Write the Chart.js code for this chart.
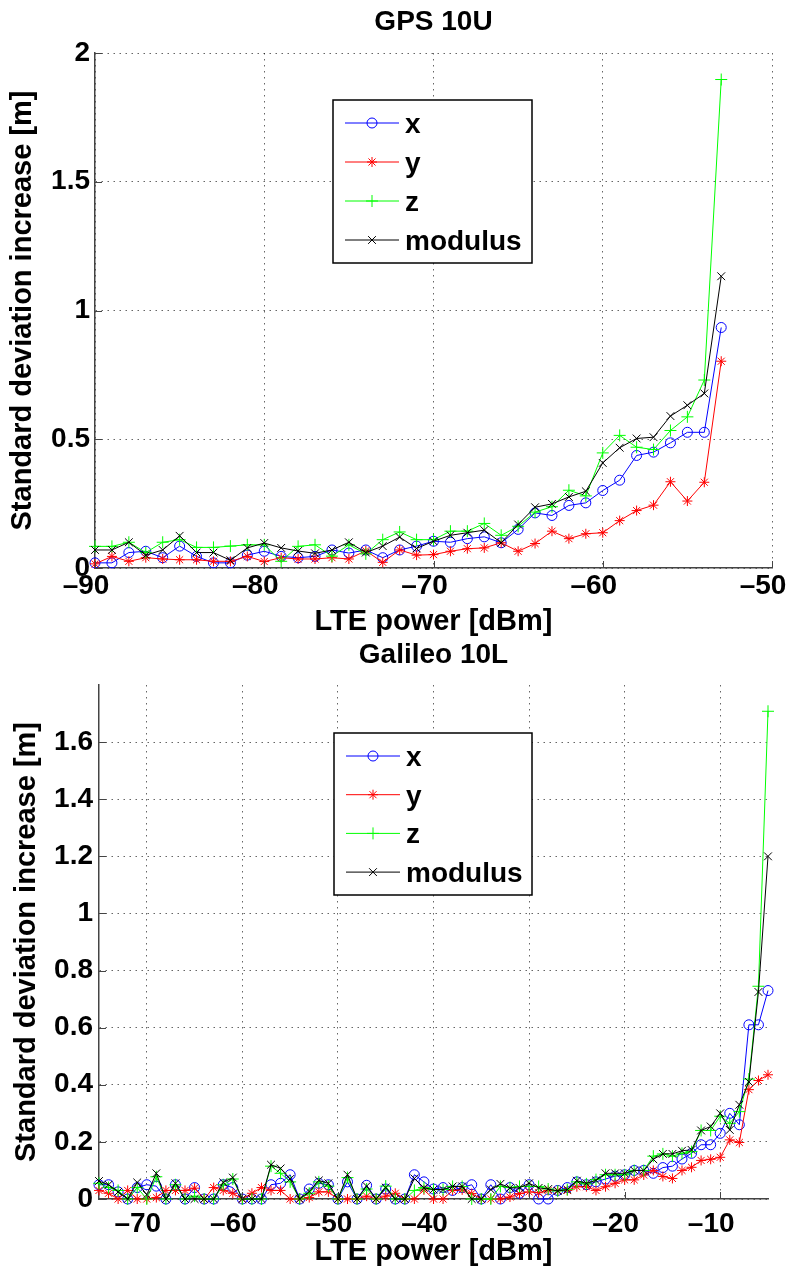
<!DOCTYPE html>
<html>
<head>
<meta charset="utf-8">
<script src="https://cdn.jsdelivr.net/npm/chart.js@4/dist/chart.umd.min.js"></script>
<style>
html,body{margin:0;padding:0;background:#fff;overflow:hidden;width:792px;height:1269px}
canvas{position:absolute;left:0}
#c1{top:0}
#c2{top:640px}
</style>
</head>
<body>
<canvas id="c1" width="792" height="640"></canvas>
<canvas id="c2" width="792" height="629"></canvas>
<script>
// ---------------- DATA ----------------
const seriesNames = ['x', 'y', 'z', 'modulus'];

// GPS 10U
const topTitle = 'GPS 10U';
const topPower = [-90,-89,-88,-87,-86,-85,-84,-83,-82,-81,-80,-79,-78,-77,-76,-75,-74,-73,-72,-71,
                  -70,-69,-68,-67,-66,-65,-64,-63,-62,-61,-60,-59,-58,-57,-56,-55,-54,-53];
const topX = [0.02,0.02,0.06,0.065,0.04,0.085,0.045,0.02,0.02,0.05,0.065,0.045,0.04,0.045,0.07,0.058,0.07,0.04,0.07,0.085,
              0.104,0.1,0.114,0.121,0.098,0.15,0.214,0.204,0.243,0.253,0.301,0.341,0.437,0.45,0.486,0.527,0.527,0.934];
const topY = [0.016,0.045,0.026,0.04,0.035,0.032,0.032,0.026,0.026,0.045,0.025,0.04,0.035,0.035,0.04,0.035,0.067,0.022,0.07,0.05,
              0.052,0.065,0.075,0.078,0.098,0.065,0.095,0.143,0.114,0.133,0.137,0.184,0.223,0.244,0.335,0.26,0.333,0.803];
const topZ = [0.084,0.084,0.1,0.06,0.1,0.11,0.08,0.08,0.085,0.09,0.09,0.026,0.084,0.09,0.046,0.09,0.055,0.11,0.14,0.11,
              0.11,0.143,0.143,0.173,0.127,0.162,0.217,0.238,0.302,0.28,0.447,0.515,0.469,0.46,0.534,0.587,0.73,1.897];
const topMod = [0.07,0.07,0.1,0.05,0.07,0.125,0.06,0.06,0.03,0.078,0.097,0.078,0.066,0.057,0.07,0.1,0.06,0.085,0.12,0.076,
                0.104,0.127,0.137,0.147,0.098,0.169,0.236,0.249,0.276,0.298,0.408,0.467,0.503,0.508,0.59,0.632,0.678,1.133];
const topXTicks = [-90, -80, -70, -60, -50];
const topYTicks = [0, 0.5, 1, 1.5, 2];

// Galileo 10L
const botTitle = 'Galileo 10L';
const botPower = [-75,-74,-73,-72,-71,-70,-69,-68,-67,-66,-65,-64,-63,-62,-61,-60,-59,-58,-57,-56,
                  -55,-54,-53,-52,-51,-50,-49,-48,-47,-46,-45,-44,-43,-42,-41,-40,-39,-38,-37,-36,
                  -35,-34,-33,-32,-31,-30,-29,-28,-27,-26,-25,-24,-23,-22,-21,-20,-19,-18,-17,-16,
                  -15,-14,-13,-12,-11,-10,-9,-8,-7,-6,-5];
const botX = [0.05,0.05,0.025,0,0.04,0.05,0.045,0,0.05,0,0.04,0,0,0.05,0.04,0,0,0,0.05,0.055,
              0.085,0,0.035,0.055,0.05,0,0.06,0,0.048,0,0.035,0,0,
              0.085,0.06,0.035,0.04,0.03,0.04,0.05,0,0.05,0,0.04,0.02,0.05,0,0,0.03,0.04,0.06,0.05,0.06,
              0.07,0.08,0.085,0.1,0.1,0.09,0.11,0.115,0.14,0.16,0.19,0.19,0.23,0.30,0.26,0.61,0.61,0.73];
const botY = [0.03,0.02,0,0.03,0,0,0.005,0.03,0.03,0.03,0.038,0,0.04,0.03,0.02,0,0.02,0.04,0.03,0.03,
              0,0,0.005,0.025,0.025,0,0,0,0.01,0,0.01,0.02,0,
              0,0.032,0,0,0.03,0.032,0.019,0,0,0,0.007,0.019,0.025,0.022,0.03,0.03,0.03,0.043,0.043,0.03,
              0.043,0.055,0.067,0.067,0.084,0.1,0.079,0.072,0.1,0.111,0.135,0.139,0.146,0.207,0.198,0.383,0.415,0.435];
const botZ = [0.055,0.04,0.03,0,0.04,0,0.078,0,0.05,0,0.01,0,0,0.05,0.07,0,0,0,0.115,0.09,
              0.06,0,0.02,0.06,0.045,0,0.075,0,0.035,0,0.045,0,0,
              0.03,0.04,0.033,0.033,0.044,0.044,0,0,0,0.044,0.04,0.044,0.044,0.044,0.035,0.028,0.033,0.06,0.053,0.068,
              0.085,0.085,0.085,0.1,0.1,0.15,0.158,0.15,0.16,0.166,0.24,0.24,0.29,0.265,0.306,0.42,0.745,1.708];
const botMod = [0.063,0.05,0.025,0,0.058,0.015,0.09,0,0.055,0,0,0,0,0.058,0.075,0,0,0,0.12,0.107,
                0.07,0,0.026,0.065,0.055,0,0.085,0,0.045,0,0.04,0,0,
                0.072,0.039,0.033,0.033,0.044,0.044,0,0,0.033,0.053,0.039,0.039,0.055,0.039,0.035,0.028,0.033,0.064,0.055,0.065,
                0.09,0.09,0.09,0.1,0.1,0.139,0.158,0.158,0.169,0.172,0.24,0.254,0.3,0.242,0.33,0.41,0.725,1.2];
const botXTicks = [-70, -60, -50, -40, -30, -20, -10];
const botYTicks = [0, 0.2, 0.4, 0.6, 0.8, 1, 1.2, 1.4, 1.6];

const xAxisLabel = 'LTE power [dBm]';
const yAxisLabel = 'Standard deviation increase [m]';

// ---------------- STYLE ----------------
const FONT = '"Liberation Sans", Arial, Helvetica, sans-serif';
Chart.defaults.font.family = FONT;
Chart.defaults.color = '#000';

const seriesStyle = [
  {color: '#0000ff', pointStyle: 'circle',   radius: 5,   order: 3},
  {color: '#ff0000', pointStyle: 'star',     radius: 5,   order: 2},
  {color: '#00ff00', pointStyle: 'cross',    radius: 6,   order: 1},
  {color: '#000000', pointStyle: 'crossRot', radius: 5.5, order: 0}
];

function fmtTick(v) {
  if (v < 0) return '\u2013' + Math.abs(v);
  return String(v);
}

const overlayPlugin = {
  id: 'overlay',
  afterDraw(chart, args, o) {
    const ctx = chart.ctx, a = chart.chartArea;
    ctx.save();
    // inward major tick marks
    ctx.strokeStyle = '#444';
    ctx.lineWidth = 1;
    const xs = chart.scales.x, ys = chart.scales.y;
    ctx.beginPath();
    xs.ticks.forEach(t => {
      const px = Math.round(xs.getPixelForValue(t.value)) + 0.5;
      ctx.moveTo(px, a.bottom); ctx.lineTo(px, a.bottom - 7);
    });
    ys.ticks.forEach(t => {
      const py = Math.round(ys.getPixelForValue(t.value)) + 0.5;
      ctx.moveTo(a.left, py); ctx.lineTo(a.left + 7, py);
    });
    ctx.stroke();
    // title
    ctx.fillStyle = '#000';
    ctx.font = 'bold 28px ' + FONT;
    ctx.textAlign = 'center';
    ctx.textBaseline = 'alphabetic';
    ctx.fillText(o.title, (a.left + a.right) / 2, o.titleBaseline);
    // legend box
    const L = o.legend;
    ctx.fillStyle = '#fff';
    ctx.fillRect(L.x, L.y, L.w, L.h);
    ctx.strokeStyle = '#000';
    ctx.lineWidth = 1.5;
    ctx.strokeRect(L.x, L.y, L.w, L.h);
    chart.data.datasets.forEach((ds, i) => {
      const cy = L.y + L.row0 + i * L.gap;
      ctx.strokeStyle = ds.borderColor;
      ctx.lineWidth = 1;
      ctx.beginPath();
      ctx.moveTo(L.x + 12, cy); ctx.lineTo(L.x + 66, cy);
      ctx.stroke();
      ctx.fillStyle = 'rgba(0,0,0,0)';
      Chart.helpers.drawPoint(ctx, {pointStyle: ds.pointStyle, radius: ds.pointRadius, borderWidth: 1, rotation: 0}, L.x + 39, cy);
      ctx.fillStyle = '#000';
      ctx.font = 'bold 28px ' + FONT;
      ctx.textAlign = 'left';
      ctx.textBaseline = 'alphabetic';
      ctx.fillText(ds.label, L.x + 72, cy + 10);
    });
    ctx.restore();
  }
};

function makeChart(canvasId, g) {
  const datasets = g.series.map((vals, i) => {
    const s = seriesStyle[i];
    return {
      label: seriesNames[i],
      data: g.power.map((p, k) => ({x: p, y: vals[k]})),
      borderColor: s.color,
      borderWidth: 1,
      pointStyle: s.pointStyle,
      pointRadius: s.radius,
      pointHoverRadius: s.radius,
      pointBorderColor: s.color,
      pointBackgroundColor: 'rgba(0,0,0,0)',
      pointBorderWidth: 1,
      tension: 0,
      fill: false,
      clip: false,
      order: s.order
    };
  });
  const gridOpts = {color: 'rgba(0,0,0,0.6)', lineWidth: 1, drawTicks: false};
  const borderOpts = {display: true, color: '#444', width: 1.5, dash: [1.5, 4.5]};
  return new Chart(document.getElementById(canvasId), {
    type: 'line',
    data: {datasets},
    plugins: [overlayPlugin],
    options: {
      responsive: false,
      animation: false,
      devicePixelRatio: 1,
      events: [],
      layout: {padding: g.padding},
      plugins: {
        legend: {display: false},
        title: {display: false},
        tooltip: {enabled: false},
        overlay: {title: g.title, titleBaseline: g.titleBaseline, legend: g.legend}
      },
      scales: {
        x: {
          type: 'linear',
          min: g.xMin, max: g.xMax,
          afterBuildTicks: s => { s.ticks = g.xTicks.map(v => ({value: v})); },
          afterFit: s => { s.height = g.xAxisH; s.paddingLeft = 0; s.paddingRight = 0; },
          ticks: {font: {size: 28, weight: 'bold'}, color: '#000', padding: g.xTickPad,
                  labelOffset: -9, maxRotation: 0, autoSkip: false, callback: v => fmtTick(v)},
          grid: gridOpts,
          border: borderOpts,
          title: {display: true, text: xAxisLabel, color: '#000',
                  font: {size: 29, weight: 'bold'}, padding: {top: 0, bottom: g.xTitlePad}}
        },
        y: {
          type: 'linear',
          min: g.yMin, max: g.yMax,
          afterBuildTicks: s => { s.ticks = g.yTicks.map(v => ({value: v})); },
          afterFit: s => { s.width = g.yAxisW; s.paddingTop = 0; s.paddingBottom = 0; },
          ticks: {font: {size: 28, weight: 'bold'}, color: '#000', padding: g.yTickPad,
                  autoSkip: false, callback: v => fmtTick(v)},
          grid: gridOpts,
          border: borderOpts,
          title: {display: true, text: yAxisLabel, color: '#000',
                  font: {size: 29, weight: 'bold'}, padding: {top: g.yTitlePad, bottom: 0}}
        }
      }
    }
  });
}

makeChart('c1', {
  title: topTitle, titleBaseline: 30,
  power: topPower, series: [topX, topY, topZ, topMod],
  xMin: -90, xMax: -50, yMin: 0, yMax: 2,
  xTicks: topXTicks, yTicks: topYTicks,
  padding: {left: 0, right: 20, top: 53, bottom: 0},
  xAxisH: 72, yAxisW: 95,
  xTickPad: 1.2, yTickPad: 5, xTitlePad: 0.6, yTitlePad: 5.6,
  legend: {x: 333, y: 100, w: 199, h: 163, row0: 23, gap: 39}
});

makeChart('c2', {
  title: botTitle, titleBaseline: 23,
  power: botPower, series: [botX, botY, botZ, botMod],
  xMin: -75, xMax: -5, yMin: 0, yMax: 1.8,
  xTicks: botXTicks, yTicks: botYTicks,
  padding: {left: 0, right: 24, top: 45, bottom: 0},
  xAxisH: 70, yAxisW: 99,
  xTickPad: 8.2, yTickPad: 6, xTitlePad: 0, yTitlePad: 9.1,
  legend: {x: 334, y: 93, w: 198, h: 162, row0: 23, gap: 38.7}
});
</script>
</body>
</html>
